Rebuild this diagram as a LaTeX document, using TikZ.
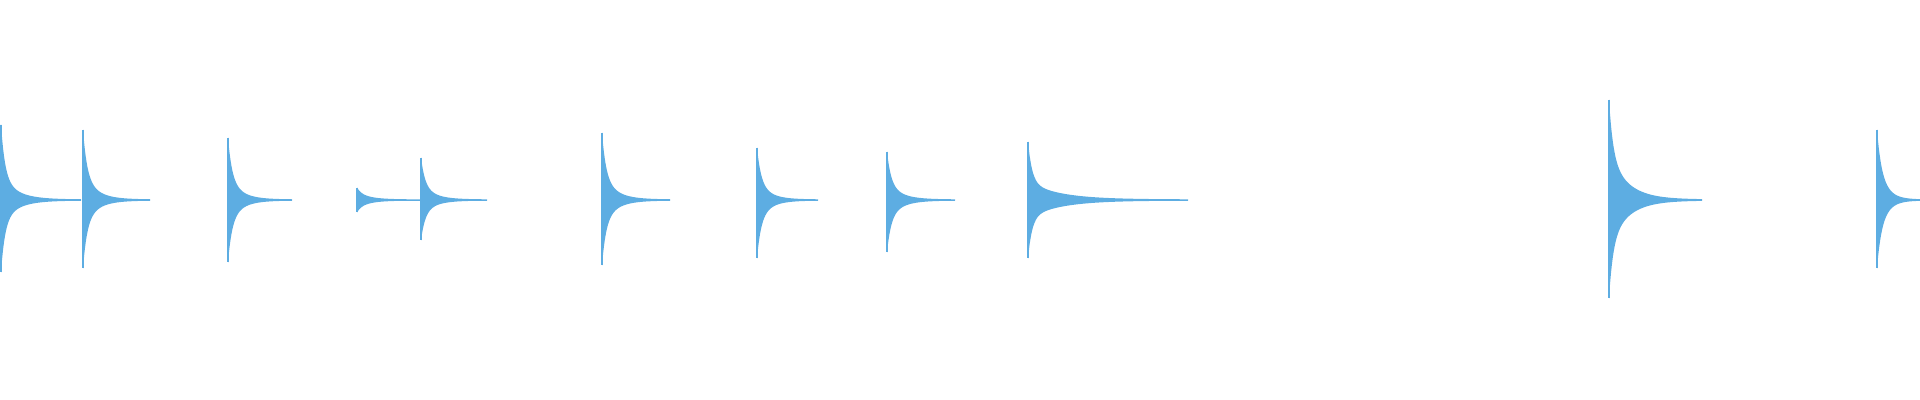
\documentclass[tikz,border=0pt]{standalone}
\definecolor{wavec}{RGB}{93,173,226}
\tikzset{wave/.style={fill=wavec}, spike/.style={draw=wavec,line width=0.02cm}}
\newcommand\burst[5]{%
\fill[wave] plot[domain=0:#4,samples=100] ({#1+\x},{200-(#2)*((1-#5)*exp(-\x/4)+#5*exp(-\x/(#4/5)))-0.6}) -- plot[domain=#4:0,samples=100] ({#1+\x},{200+(#3)*((1-#5)*exp(-\x/4)+#5*exp(-\x/(#4/5)))+0.6}) -- cycle;
\draw[spike] (#1,200-#2) -- (#1,200+#3);
\draw[spike,line width=0.01cm] (#1,200) -- (#1+#4,200);}
\begin{document}
\begin{tikzpicture}[x=0.01cm,y=-0.01cm]
\useasboundingbox (0,0) rectangle (1920,400);
\burst{1}{75}{72}{80}{0.3}
\burst{83}{70}{68}{67}{0.35}
\burst{228}{62}{62}{64}{0.35}
\burst{357}{12}{12}{64}{0.6}
\burst{421}{42}{40}{66}{0.35}
\burst{602}{67}{65}{68}{0.35}
\burst{757}{52}{58}{61}{0.35}
\burst{887}{48}{52}{68}{0.35}
\burst{1028}{58}{58}{160}{0.3}
\burst{1609}{100}{98}{93}{0.45}
\burst{1877}{70}{68}{43}{0.55}
\end{tikzpicture}
\end{document}
